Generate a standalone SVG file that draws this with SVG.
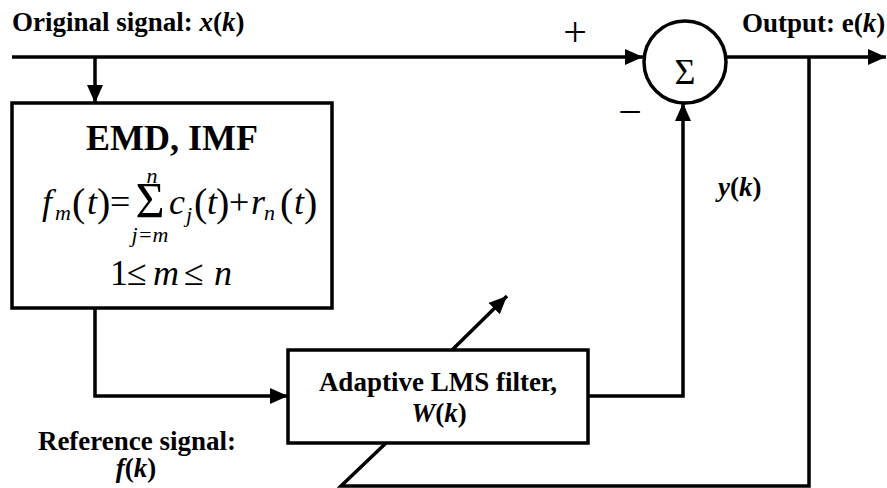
<svg xmlns="http://www.w3.org/2000/svg" width="887" height="488" viewBox="0 0 887 488">
<style>
text{font-family:"Liberation Serif","Times New Roman",serif;fill:#000}
.lbl{font-size:27px;font-weight:bold}
.it{font-style:italic}
.box{fill:#fff;stroke:#000;stroke-width:3.5}
.wire{fill:none;stroke:#000;stroke-width:3.5}
.f{font-size:36px;font-style:italic}
.fr{font-size:36px}
.sub{font-size:22px;font-style:italic}
.par{font-size:40px}
</style>
<defs>
<marker id="ah" markerUnits="userSpaceOnUse" markerWidth="18" markerHeight="16" refX="18" refY="8" orient="auto" viewBox="0 0 18 16">
<path d="M0,0 L18,8 L0,16 z" fill="#000"/>
</marker>
</defs>
<g id="connectors">
<path class="wire" d="M12,57 L643,57" marker-end="url(#ah)"/>
<path class="wire" d="M95,57 L95,103" marker-end="url(#ah)"/>
<path class="wire" d="M727,57 L886,57" marker-end="url(#ah)"/>
<path class="wire" d="M95,308 L95,396 L288,396" marker-end="url(#ah)"/>
<path class="wire" d="M588,396 L683,396 L683,103" marker-end="url(#ah)"/>
<path class="wire" d="M809,57 L809,486 L341,486 L386,443"/>
<path class="wire" d="M452,350 L507,296" marker-end="url(#ah)"/>
</g>
<g id="emd">
<rect class="box" x="12" y="103" width="320" height="205"/>
<text x="172" y="150" text-anchor="middle" style="font-size:36px;font-weight:bold">EMD, IMF</text>
<text class="f" x="42" y="214">f</text>
<text class="sub" x="55" y="220">m</text>
<text class="par" x="72" y="216">(</text>
<text class="f" x="87" y="214">t</text>
<text class="par" x="97" y="216">)</text>
<text class="fr" x="110" y="214">=</text>
<text x="150" y="217" text-anchor="middle" style="font-size:50px">Σ</text>
<text class="sub" x="152" y="183" text-anchor="middle">n</text>
<text class="sub" x="150" y="242" text-anchor="middle">j=m</text>
<text class="f" x="169" y="214">c</text>
<text class="sub" x="186" y="222">j</text>
<text class="par" x="194" y="216">(</text>
<text class="f" x="207" y="214">t</text>
<text class="par" x="216" y="216">)</text>
<text class="fr" x="229" y="214">+</text>
<text class="f" x="251" y="214">r</text>
<text class="sub" x="264" y="220">n</text>
<text class="par" x="280" y="216">(</text>
<text class="f" x="294" y="214">t</text>
<text class="par" x="304" y="216">)</text>
<text class="fr" x="110" y="285">1</text>
<text class="fr" x="127" y="285">≤</text>
<text class="f" x="153" y="285">m</text>
<text class="fr" x="184" y="285">≤</text>
<text class="f" x="214" y="285">n</text>
</g>
<g id="sum">
<circle cx="685" cy="62" r="41" fill="#fff" stroke="#000" stroke-width="3.5"/>
<text x="685" y="84" text-anchor="middle" style="font-size:36px">Σ</text>
</g>
<g id="lms">
<rect class="box" x="288" y="350" width="300" height="93"/>
<text class="lbl" x="438" y="391" text-anchor="middle">Adaptive LMS filter,</text>
<text class="lbl" x="439" y="422" text-anchor="middle"><tspan class="it">W</tspan>(<tspan class="it">k</tspan>)</text>
</g>
<g id="labels">
<text class="lbl" x="12" y="31">Original signal: <tspan class="it">x</tspan>(<tspan class="it">k</tspan>)</text>
<text class="lbl" x="742" y="32">Output: e(<tspan class="it">k</tspan>)</text>
<text x="575" y="46" text-anchor="middle" style="font-size:42px">+</text>
<text x="630" y="126" text-anchor="middle" style="font-size:42px">−</text>
<text class="lbl" x="718" y="196"><tspan class="it">y</tspan>(<tspan class="it">k</tspan>)</text>
<text class="lbl" x="137" y="450" text-anchor="middle">Reference signal:</text>
<text class="lbl" x="136" y="477" text-anchor="middle"><tspan class="it">f</tspan>(<tspan class="it">k</tspan>)</text>
</g>
</svg>
